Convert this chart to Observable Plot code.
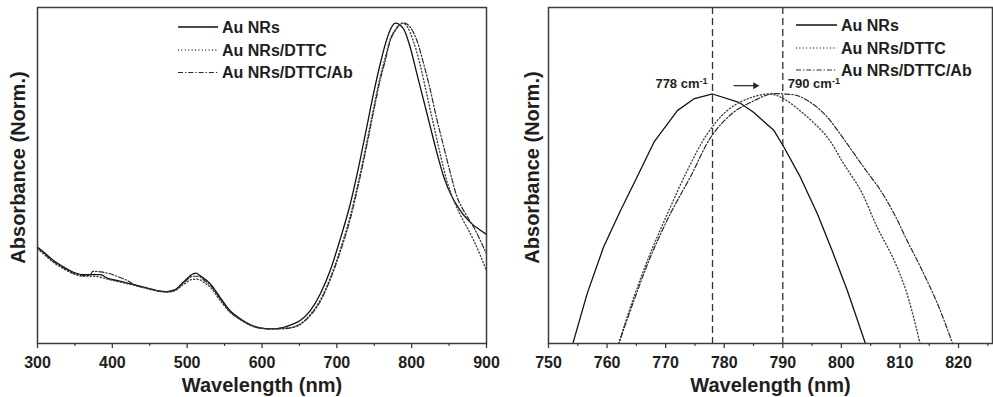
<!DOCTYPE html>
<html>
<head>
<meta charset="utf-8">
<script src="https://cdn.jsdelivr.net/npm/d3@7"></script>
<script src="https://cdn.jsdelivr.net/npm/@observablehq/plot@0.6"></script>
<style>
  body { margin: 0; background: #fff; }
  #chart { position: relative; width: 993px; height: 397px; overflow: hidden; }
  #chart svg { position: absolute; top: 0; }
</style>
</head>
<body>
<div id="chart"></div>
<script>
// Series names, shared by both panels
const seriesNames = ["Au NRs", "Au NRs/DTTC", "Au NRs/DTTC/Ab"];

// Full UV-Vis-NIR spectra (left panel), wavelength in nm and normalised absorbance
const fullNmNR = [300,308,321,335,348,361,375,384,393,410,428,446,460,473,484,495,508,512,517,531,544,557,571,584,598,611,629,642,651,664,678,691,704,718,731,740,749,758,765,771,778,789,798,807,816,825,834,843,854,865,878,889,900];
const fullAbsNR = [0.267,0.251,0.224,0.202,0.185,0.177,0.177,0.177,0.166,0.156,0.145,0.134,0.125,0.122,0.128,0.153,0.180,0.182,0.174,0.147,0.103,0.060,0.033,0.014,0.003,0.000,0.005,0.016,0.027,0.058,0.115,0.190,0.289,0.409,0.551,0.660,0.769,0.867,0.933,0.976,1.000,0.982,0.921,0.834,0.747,0.660,0.573,0.496,0.431,0.387,0.349,0.327,0.309];

const fullNmDTTC = [300,308,321,335,348,361,375,393,410,428,446,460,473,484,495,508,515,522,531,544,557,571,584,598,611,629,642,651,664,678,691,704,718,731,740,749,758,765,771,778,784,788,795,802,811,820,829,838,847,858,869,883,900];
const fullAbsDTTC = [0.262,0.245,0.218,0.196,0.180,0.172,0.172,0.163,0.153,0.143,0.132,0.124,0.120,0.125,0.145,0.162,0.162,0.152,0.136,0.093,0.055,0.030,0.012,0.002,0.000,0.002,0.005,0.014,0.045,0.095,0.165,0.255,0.370,0.505,0.610,0.720,0.825,0.890,0.945,0.978,0.996,1.000,0.985,0.943,0.867,0.769,0.671,0.573,0.485,0.409,0.354,0.289,0.190];

const fullNmAb = [300,308,321,335,348,361,370,374,385,397,410,420,428,446,460,473,484,495,508,515,522,531,544,557,571,584,598,611,629,642,651,664,678,691,704,718,731,740,749,758,765,771,778,784,790,797,807,816,825,834,843,852,860,872,883,900];
const fullAbsAb = [0.265,0.248,0.220,0.199,0.182,0.174,0.175,0.188,0.186,0.180,0.168,0.158,0.146,0.133,0.124,0.121,0.127,0.150,0.172,0.172,0.160,0.142,0.098,0.057,0.031,0.013,0.002,0.000,0.000,0.006,0.016,0.042,0.090,0.160,0.248,0.360,0.495,0.600,0.710,0.815,0.880,0.940,0.975,0.995,1.000,0.990,0.943,0.867,0.780,0.682,0.594,0.507,0.436,0.376,0.332,0.245];

// Longitudinal plasmon band, enlarged (right panel)
const peakNmNR = [754.0,756.6,759.4,762.3,765.1,768.0,772.0,774.8,778.0,782.5,785.0,788.5,790.2,793.0,795.9,798.4,801.0,804.3];
const peakAbsNR = [0.848,0.880,0.908,0.930,0.950,0.971,0.990,0.997,1.000,0.995,0.989,0.978,0.968,0.950,0.928,0.906,0.882,0.848];

const peakNmDTTC = [761.8,764.0,766.9,770.3,773.7,777.1,780.5,783.9,787.9,790.2,793.6,797.6,800.4,803.3,806.1,809.0,811.2,813.5];
const peakAbsDTTC = [0.848,0.872,0.900,0.928,0.954,0.976,0.990,0.997,1.000,0.997,0.988,0.974,0.958,0.942,0.920,0.900,0.880,0.849];

const peakNmAb = [761.8,764.6,767.4,770.8,774.2,777.9,781.6,785.1,787.9,790.2,792.5,794.7,796.5,798.1,801.0,803.8,806.7,809.0,811.2,813.5,816.4,819.1];
const peakAbsAb = [0.848,0.876,0.902,0.928,0.950,0.975,0.989,0.996,1.000,1.000,0.999,0.995,0.990,0.984,0.970,0.956,0.942,0.928,0.912,0.896,0.874,0.849];

// Peak positions marked in the enlarged panel, and the shift arrow between them
const peakPositions = [778, 790];
const peakLabelLevel = 1.006;
const shiftArrow = [{from: 781.6, to: 785.3, level: 1.005}];

// Axis ticks and titles
const leftMajorTicks = [300, 400, 500, 600, 700, 800, 900];
const leftMinorTicks = [350, 450, 550, 650, 750, 850];
const rightMajorTicks = [750, 760, 770, 780, 790, 800, 810, 820];
const rightMinorTicks = [755, 765, 775, 785, 795, 805, 815, 825];
const xTitle = "Wavelength (nm)";
const yTitle = "Absorbance (Norm.)";

// ---- drawing ----
const font = '"Liberation Sans", Arial, Helvetica, sans-serif';
const ink = "#1e1e1e";
const axisInk = "#3c3c3c";
const lineStyles = [
  {stroke: "#111", strokeWidth: 1.3, strokeDasharray: null},
  {stroke: "#444", strokeWidth: 1.4, strokeDasharray: "1,2.4"},
  {stroke: "#2a2a2a", strokeWidth: 1.2, strokeDasharray: "5,2,1.3,2"}
];

function toRows(xs, ys) { return xs.map((x, i) => ({nm: x, abs: ys[i]})); }

const fullSeries = [toRows(fullNmNR, fullAbsNR), toRows(fullNmDTTC, fullAbsDTTC), toRows(fullNmAb, fullAbsAb)];
const peakSeries = [toRows(peakNmNR, peakAbsNR), toRows(peakNmDTTC, peakAbsDTTC), toRows(peakNmAb, peakAbsAb)];

function axisMarks(major, minor, yTitleDx) {
  return [
    Plot.frame({stroke: axisInk, strokeWidth: 1.5}),
    Plot.axisX({ticks: major, tickSize: 5, tickFormat: () => "", stroke: axisInk, strokeWidth: 1.3, label: null}),
    Plot.axisX({ticks: minor, tickSize: 3, tickFormat: () => "", stroke: axisInk, strokeWidth: 1.2, label: null}),
    Plot.text(major, {x: d => d, text: d => d3.format("d")(d), frameAnchor: "bottom", lineAnchor: "middle",
      dy: 19, fontSize: 16, fontWeight: "bold", fill: ink}),
    Plot.text([xTitle], {text: d => d, frameAnchor: "bottom", lineAnchor: "middle", dy: 42,
      fontSize: 20, fontWeight: "bold", fill: ink}),
    Plot.text([yTitle], {text: d => d, frameAnchor: "left", textAnchor: "middle", lineAnchor: "middle",
      rotate: -90, dx: yTitleDx, dy: -8, fontSize: 20, fontWeight: "bold", fill: ink})
  ];
}

const left = Plot.plot({
  width: 500, height: 397,
  marginLeft: 37, marginRight: 14, marginTop: 7, marginBottom: 54,
  x: {domain: [300, 900], label: null},
  y: {domain: [-0.048, 1.051], axis: null, label: null},
  style: {fontFamily: font, background: "transparent", overflow: "visible"},
  marks: [
    ...fullSeries.map((rows, i) => Plot.line(rows, {x: "nm", y: "abs", curve: "monotone-x", ...lineStyles[i]})),
    ...axisMarks(leftMajorTicks, leftMinorTicks, -19)
  ]
});

const right = Plot.plot({
  width: 493, height: 397,
  marginLeft: 48, marginRight: 1, marginTop: 7, marginBottom: 54,
  x: {domain: [750, 825.8], label: null},
  y: {domain: [0.85, 1.052], axis: null, label: null},
  style: {fontFamily: font, background: "transparent", overflow: "visible"},
  marks: [
    Plot.ruleX(peakPositions, {stroke: "#333", strokeWidth: 1.3, strokeDasharray: "7,4"}),
    ...peakSeries.map((rows, i) => Plot.line(rows, {x: "nm", y: "abs", curve: i === 0 ? "linear" : "catmull-rom",
      clip: true, ...lineStyles[i]})),
    Plot.text(peakPositions.slice(0, 1), {
      x: d => d, y: () => peakLabelLevel, text: d => `${d} cm`, textAnchor: "end", dx: -5,
      fontSize: 13, fontWeight: "bold", fill: ink, className: "peak-label"
    }),
    Plot.text(peakPositions.slice(1), {
      x: d => d, y: () => peakLabelLevel, text: d => `${d} cm`, textAnchor: "start", dx: 5,
      fontSize: 13, fontWeight: "bold", fill: ink, className: "peak-label"
    }),
    Plot.link(shiftArrow, {x1: "from", x2: "to", y1: "level", y2: "level", stroke: "#222", strokeWidth: 1.2}),
    Plot.dot(shiftArrow, {x: "to", y: "level", symbol: "triangle", rotate: 90, r: 2.6, fill: "#222", stroke: null}),
    ...axisMarks(rightMajorTicks, rightMinorTicks, -16)
  ]
});

// Superscript "-1" on the wavenumber labels
d3.select(right).selectAll(".peak-label text").each(function () {
  d3.select(this).append("tspan").attr("dy", "-0.45em").attr("font-size", 9).text("-1");
});

left.style.left = "0px";
right.style.left = "500px";

const chart = document.getElementById("chart");
chart.appendChild(left);
chart.appendChild(right);

// Legends (one per panel)
const legendLayer = d3.select(chart).append("svg")
  .attr("width", 993).attr("height", 397)
  .style("left", "0px").style("pointer-events", "none");

const legendBoxes = [
  {lineX: 178, lineLen: 40, textX: 222, rows: [27, 50, 72.5]},
  {lineX: 796, lineLen: 41, textX: 841, rows: [25, 48, 70]}
];
legendBoxes.forEach(box => {
  seriesNames.forEach((name, i) => {
    const y = box.rows[i];
    const s = lineStyles[i];
    legendLayer.append("line")
      .attr("x1", box.lineX).attr("x2", box.lineX + box.lineLen)
      .attr("y1", y).attr("y2", y)
      .attr("stroke", s.stroke).attr("stroke-width", s.strokeWidth)
      .attr("stroke-dasharray", s.strokeDasharray);
    legendLayer.append("text")
      .attr("x", box.textX).attr("y", y)
      .attr("dominant-baseline", "central")
      .attr("font-family", font).attr("font-size", 16).attr("font-weight", "bold")
      .attr("fill", ink)
      .text(name);
  });
});
</script>
</body>
</html>
